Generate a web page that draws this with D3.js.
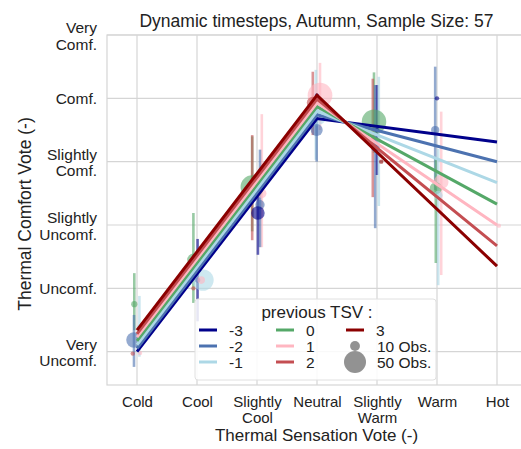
<!DOCTYPE html>
<html><head><meta charset="utf-8">
<script src="https://cdn.jsdelivr.net/npm/d3@7"></script>
<style>body{margin:0;background:#fff}svg{font-family:"Liberation Sans",Arial,sans-serif}</style>
</head><body><svg id="c" width="521" height="449"></svg>
<script>
// ---- data ----
const tsvLabels = ["Cold","Cool","Slightly\nCool","Neutral","Slightly\nWarm","Warm","Hot"];
const tcvLabels = ["Very\nUncomf.","Uncomf.","Slightly\nUncomf.","Slightly\nComf.","Comf.","Very\nComf."];
const prevTSV = [-3,-2,-1,0,1,2,3];
const prevColors = ["#00008b","#4c72b0","#add8e6","#55a868","#ffb6c1","#c44e52","#8b0000"];
// fitted lines (TCV at Cold, Neutral, Hot) per previous TSV
const fitCold    = [0.00, 0.05, 0.11, 0.17, 0.23, 0.28, 0.34];
const fitNeutral = [3.68, 3.74, 3.80, 3.87, 3.93, 3.99, 4.05];
const fitHot     = [3.31, 3.00, 2.67, 2.33, 2.00, 1.67, 1.35];
// observed means: TSV index, previous TSV, jitter, mean TCV, CI low, CI high, count
const ptTSV  = [0,0,0,0,0, 1,1,1,1,1, 2,2,2,2,2, 3,3,3,3,3, 4,4,4,4,4,4, 5,5,5,5,5, 6];
const ptPrev = [0,-2,2,1,-1, 0,-3,-1,1,2, 0,1,-2,-3,2, 1,2,-1,-2,-3, 0,2,3,-2,-3,-1, -3,-2,1,0,-1, 1];
const ptDx   = [-0.045,-0.05,-0.07,0.05,0.04, -0.06,0.01,0.1,0.07,-0.06, -0.08,0.08,0.05,0.015,-0.08, 0.05,-0.07,-0.02,-0.005,0, -0.05,-0.07,0.07,-0.03,0,0.03, 0,-0.03,0.07,-0.02,0.02, 0.03];
const ptTCV  = [0.75,0.185,-0.03,-0.02,0.39, 1.45,1.13,1.13,1.13,1.0, 2.6,2.5,2.32,2.19,2.55, 4.05,3.93,3.75,3.5,4.04, 3.63,3.37,3.0,3.23,3.5,3.33, 4.0,3.5,2.68,2.58,2.47, 1.99];
const ptLo   = [0.34,-0.24,null,null,-0.08, 0.77,0.48,null,null,null, 1.9,1.65,1.65,1.53,1.76, 3.5,3.42,3.03,3.0,null, 3.14,2.44,null,1.95,2.79,2.3, null,2.55,1.21,1.4,1.05, null];
const ptHi   = [1.24,0.58,null,null,0.88, 2.19,1.78,null,null,null, 3.4,3.75,3.19,2.79,3.42, 4.56,4.42,4.45,4.08,null, 4.41,4.31,null,4.21,4.21,4.34, null,4.5,3.79,3.03,3.2, null];
const ptN    = [4,25,2,2,2, 16,3,47,6,2, 56,9,9,19,3, 63,15,55,15,2, 62,1,2,8,2,3, 2,7,22,15,8, 2];
const legendSizes = [10, 50];

// ---- chart ----
const svg = d3.select("#c");
const m = {l:107, r:527, t:35, b:385};
const x = d3.scaleLinear().domain([-0.5, 6.5]).range([m.l, m.r]);
const y = d3.scaleLinear().domain([-0.526, 5]).range([m.b, m.t]);
const r = d3.scaleSqrt().domain([0, 50]).range([0, 11]);
const col = d3.scaleOrdinal().domain(prevTSV).range(prevColors);
const FONT = "Liberation Sans, Arial, sans-serif";

// grid
const g = svg.append("g");
g.selectAll(".vx").data(d3.range(7)).join("line")
  .attr("x1", d => x(d)).attr("x2", d => x(d)).attr("y1", m.t).attr("y2", m.b)
  .attr("stroke", "#d5d5d5").attr("stroke-width", 1.2);
g.selectAll(".hy").data(d3.range(6)).join("line")
  .attr("y1", d => y(d)).attr("y2", d => y(d)).attr("x1", m.l).attr("x2", m.r)
  .attr("stroke", "#d5d5d5").attr("stroke-width", 1.2);
g.append("rect").attr("x", m.l).attr("y", m.t).attr("width", m.r - m.l).attr("height", m.b - m.t)
  .attr("fill", "none").attr("stroke", "#d5d5d5").attr("stroke-width", 1.2);

// axes via d3 axis, styled
const xAxis = d3.axisBottom(x).tickValues(d3.range(7)).tickSize(0).tickFormat(d => tsvLabels[d]);
const xa = svg.append("g").attr("transform", `translate(0,${m.b})`).call(xAxis);
xa.select(".domain").remove();
xa.selectAll(".tick text").each(function(d){
  const t = d3.select(this); const lines = tsvLabels[d].split("\n");
  t.text(null).attr("y", 0).attr("dy", null);
  lines.forEach((s,i) => t.append("tspan").attr("x", 0).attr("y", 22 + i*15.5).text(s));
}).attr("font-size", 15).attr("fill", "#222").attr("font-family", FONT);

const yAxis = d3.axisLeft(y).tickValues(d3.range(6)).tickSize(0).tickFormat(d => tcvLabels[d]);
const ya = svg.append("g").attr("transform", `translate(${m.l},0)`).call(yAxis);
ya.select(".domain").remove();
ya.selectAll(".tick text").each(function(d){
  const t = d3.select(this); const lines = tcvLabels[d].split("\n");
  t.text(null).attr("dy", null);
  const off = lines.length === 1 ? [5.5] : [-2.5, 14];
  lines.forEach((s,i) => t.append("tspan").attr("x", -10).attr("y", off[i]).text(s));
}).attr("font-size", 15.5).attr("fill", "#222").attr("text-anchor", "end").attr("font-family", FONT);

// titles
svg.append("text").attr("x", 316.5).attr("y", 27).attr("text-anchor", "middle")
  .attr("font-size", 17.5).attr("fill", "#222").text("Dynamic timesteps, Autumn, Sample Size: 57");
svg.append("text").attr("x", 316.5).attr("y", 441).attr("text-anchor", "middle")
  .attr("font-size", 17).attr("fill", "#222").text("Thermal Sensation Vote (-)");
svg.append("text").attr("transform", "translate(31,214) rotate(-90)").attr("text-anchor", "middle")
  .attr("font-size", 17.5).attr("fill", "#222").text("Thermal Comfort Vote (-)");

// points + error bars
const pts = ptTSV.map((t,i) => ({t, p: ptPrev[i], dx: ptDx[i], v: ptTCV[i], lo: ptLo[i], hi: ptHi[i], n: ptN[i]}));
const pg = svg.append("g");
pg.selectAll("line.err").data(pts.filter(d => d.lo !== null)).join("line")
  .attr("x1", d => x(d.t + d.dx)).attr("x2", d => x(d.t + d.dx))
  .attr("y1", d => y(d.lo)).attr("y2", d => y(d.hi))
  .attr("stroke", d => col(d.p)).attr("stroke-width", 2.6).attr("opacity", 0.6);
pg.selectAll("circle").data(pts).join("circle")
  .attr("cx", d => x(d.t + d.dx)).attr("cy", d => y(d.v)).attr("r", d => r(d.n))
  .attr("fill", d => col(d.p)).attr("opacity", 0.6);

// fitted lines
const lg = svg.append("g");
prevTSV.forEach((p,i) => {
  const line = d3.line().x(d => x(d[0])).y(d => y(d[1]));
  lg.append("path").attr("d", line([[0, fitCold[i]],[3, fitNeutral[i]],[6, fitHot[i]]]))
    .attr("fill", "none").attr("stroke", prevColors[i]).attr("stroke-width", 3);
});

// legend
const L = svg.append("g");
L.append("rect").attr("x", 195).attr("y", 299).attr("width", 241).attr("height", 81).attr("rx", 3)
  .attr("fill", "#fff").attr("fill-opacity", 0.85).attr("stroke", "#e0e0e0");
L.append("text").attr("x", 317).attr("y", 318).attr("text-anchor", "middle").attr("font-size", 17)
  .attr("fill", "#222").text("previous TSV :");
const colX = [199, 276, 346];
prevTSV.forEach((p,i) => {
  const c = Math.floor(i/3), row = i % 3;
  const yy = 330 + row*16;
  L.append("line").attr("x1", colX[c]).attr("x2", colX[c] + 18).attr("y1", yy).attr("y2", yy)
    .attr("stroke", prevColors[i]).attr("stroke-width", 3);
  L.append("text").attr("x", colX[c] + 30).attr("y", yy + 5.5).attr("font-size", 15.5).attr("fill", "#222").text(p);
});
legendSizes.forEach((s,i) => {
  const yy = 346 + i*16;
  L.append("circle").attr("cx", 355).attr("cy", yy).attr("r", r(s)).attr("fill", "#777").attr("opacity", 0.8);
  L.append("text").attr("x", 377).attr("y", yy + 5.5).attr("font-size", 15.5).attr("fill", "#222").text(s + " Obs.");
});
</script></body></html>
